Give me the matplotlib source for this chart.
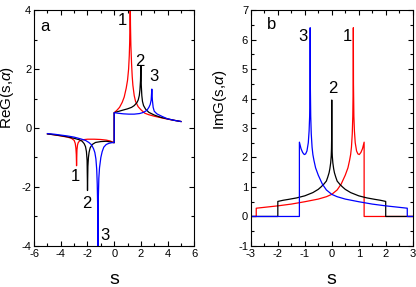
import matplotlib
matplotlib.use('Agg')
import matplotlib.pyplot as plt
from matplotlib.ticker import MultipleLocator

plt.rcParams['font.family'] = ['Liberation Sans', 'DejaVu Sans']
plt.rcParams['mathtext.fontset'] = 'custom'
plt.rcParams['mathtext.it'] = 'Liberation Sans:italic'
plt.rcParams['mathtext.rm'] = 'Liberation Sans'
plt.rcParams['axes.unicode_minus'] = False

# ---- panel a : ReG(s, alpha) ----
re1_s = [-5.0, -4.5, -4.0, -3.5, -3.2, -3.0, -2.92, -2.87, -2.84, -2.82, -2.79, -2.75, -2.7,
         -2.6, -2.4, -2.0, -1.5, -1.0, -0.6, -0.3, -0.1, 0.0,
         0.0, 0.2, 0.4, 0.6, 0.75, 0.9, 1.0, 1.08, 1.13, 1.16, 1.18, 1.2, 1.22, 1.25, 1.3,
         1.35, 1.4, 1.5, 1.6, 1.8, 2.0, 2.3, 2.6, 3.0, 3.5, 4.0, 4.5, 5.0]
re1_v = [-0.2, -0.23, -0.27, -0.31, -0.35, -0.42, -0.52, -0.68, -0.9, -1.28, -0.75, -0.58, -0.5,
         -0.44, -0.4, -0.38, -0.38, -0.39, -0.41, -0.44, -0.48, -0.5,
         0.52, 0.6, 0.7, 0.87, 1.05, 1.35, 1.62, 2.0, 2.45, 2.9, 3.5, 4.6, 3.5, 2.8, 2.2,
         1.75, 1.45, 1.1, 0.9, 0.72, 0.62, 0.5, 0.45, 0.4, 0.35, 0.3, 0.26, 0.22]

re2_s = [-5.0, -4.5, -4.0, -3.5, -3.0, -2.6, -2.4, -2.25, -2.15, -2.08, -2.03, -2.0, -1.97,
         -1.93, -1.88, -1.8, -1.65, -1.4, -1.0, -0.6, -0.3, 0.0,
         0.0, 0.3, 0.6, 1.0, 1.3, 1.5, 1.7, 1.8, 1.88, 1.93, 1.97, 2.0, 2.03, 2.07, 2.12,
         2.2, 2.35, 2.6, 3.0, 3.5, 4.0, 4.5, 5.0]
re2_v = [-0.2, -0.23, -0.26, -0.3, -0.35, -0.4, -0.45, -0.53, -0.63, -0.8, -1.1, -2.12, -1.3,
         -1.0, -0.82, -0.67, -0.56, -0.49, -0.46, -0.45, -0.47, -0.5,
         0.52, 0.56, 0.6, 0.65, 0.7, 0.76, 0.86, 0.95, 1.1, 1.3, 1.6, 2.12, 1.45, 1.1, 0.9,
         0.76, 0.64, 0.53, 0.44, 0.36, 0.31, 0.26, 0.22]

re3_s = [-5.0, -4.5, -4.0, -3.5, -3.0, -2.5, -2.15, -1.9, -1.7, -1.55, -1.45, -1.37, -1.31,
         -1.27, -1.24, -1.22, -1.19, -1.15, -1.1, -1.0, -0.9, -0.78, -0.6, -0.4, -0.2, 0.0,
         0.0, 0.3, 0.7, 1.1, 1.5, 1.9, 2.2, 2.45, 2.6, 2.7, 2.77, 2.82, 2.86, 2.92, 3.0,
         3.2, 3.6, 4.0, 4.5, 5.0]
re3_v = [-0.19, -0.21, -0.24, -0.27, -0.31, -0.37, -0.42, -0.49, -0.57, -0.7, -0.83, -1.05, -1.4,
         -1.9, -2.6, -4.6, -2.4, -1.7, -1.35, -1.0, -0.8, -0.65, -0.56, -0.52, -0.5, -0.49,
         0.52, 0.5, 0.48, 0.47, 0.47, 0.49, 0.53, 0.6, 0.7, 0.8, 0.95, 1.32, 0.95, 0.7, 0.57,
         0.48, 0.39, 0.31, 0.26, 0.22]

# ---- panel b : ImG(s, alpha) ----
im1_s = [-3.0, -2.8, -2.8, -2.5, -2.0, -1.5, -1.0, -0.5, -0.2, 0.0, 0.2, 0.35, 0.5, 0.6, 0.66,
         0.7, 0.73, 0.76, 0.78, 0.795, 0.8, 0.805, 0.82, 0.84, 0.87, 0.92, 0.97, 1.02, 1.08,
         1.14, 1.2, 1.2, 3.0]
im1_v = [0, 0, 0.28, 0.31, 0.36, 0.42, 0.5, 0.59, 0.67, 0.75, 0.9, 1.1, 1.4, 1.65, 1.9,
         2.1, 2.35, 2.8, 3.4, 4.5, 6.4, 4.5, 3.4, 2.9, 2.5, 2.22, 2.12, 2.1, 2.17,
         2.3, 2.52, 0, 0]

im2_s = [-3.0, -2.0, -2.0, -1.8, -1.6, -1.3, -1.0, -0.7, -0.5, -0.4, -0.3, -0.2, -0.15, -0.1,
         -0.07, -0.04, -0.02, -0.01, -0.005, 0.0, 0.005, 0.01, 0.02, 0.04, 0.07, 0.1, 0.15,
         0.2, 0.3, 0.4, 0.5, 0.7, 1.0, 1.3, 1.6, 1.8, 2.0, 2.0, 3.0]
im2_v = [0, 0, 0.51, 0.55, 0.58, 0.63, 0.7, 0.81, 0.92, 1.0, 1.09, 1.2, 1.33, 1.48,
         1.62, 1.82, 2.05, 2.3, 2.6, 3.95, 2.6, 2.3, 2.05, 1.82, 1.62, 1.48, 1.33,
         1.2, 1.09, 1.0, 0.92, 0.81, 0.7, 0.63, 0.58, 0.55, 0.51, 0, 0]

im3_s = [-3.0, -1.2, -1.2, -1.14, -1.08, -1.02, -0.97, -0.92, -0.87, -0.84, -0.82, -0.805, -0.8,
         -0.795, -0.78, -0.76, -0.73, -0.7, -0.66, -0.6, -0.5, -0.35, -0.2, 0.0, 0.2, 0.5,
         1.0, 1.5, 2.0, 2.5, 2.8, 2.8, 3.0]
im3_v = [0, 0, 2.52, 2.3, 2.17, 2.1, 2.12, 2.22, 2.5, 2.9, 3.4, 4.5, 6.4,
         4.5, 3.4, 2.8, 2.35, 2.1, 1.9, 1.65, 1.4, 1.1, 0.9, 0.75, 0.67, 0.59,
         0.5, 0.42, 0.36, 0.31, 0.28, 0, 0]

colors = ['red', 'black', 'blue']
lw = 0.9

fig = plt.figure(figsize=(4.16, 2.87), dpi=100)
axa = fig.add_axes([0.082, 0.143, 0.385, 0.822])
axb = fig.add_axes([0.603, 0.143, 0.389, 0.822])

# panel a
for xs, ys, c in zip([re1_s, re2_s, re3_s], [re1_v, re2_v, re3_v], colors):
    axa.plot(xs, ys, color=c, lw=lw)
axa.set_xlim(-6, 6)
axa.set_ylim(-4, 4)
axa.xaxis.set_major_locator(MultipleLocator(2))
axa.xaxis.set_minor_locator(MultipleLocator(1))
axa.yaxis.set_major_locator(MultipleLocator(2))
axa.yaxis.set_minor_locator(MultipleLocator(1))
axa.set_xlabel('s', fontsize=14, labelpad=9)
axa.set_ylabel('ReG(s,$\\alpha$)', fontsize=11)
axa.yaxis.set_label_coords(-0.11, 0.63)
axa.text(-5.2, 3.45, 'a', fontsize=12, ha='center', va='center')
for tx, ty, t in [(0.6, 3.65, '1'), (1.95, 2.25, '2'), (2.95, 1.75, '3'),
                  (-2.92, -1.65, '1'), (-2.05, -2.55, '2'), (-0.67, -3.63, '3')]:
    axa.text(tx, ty, t, fontsize=12, ha='center', va='center')

# panel b
for xs, ys, c in zip([im1_s, im2_s, im3_s], [im1_v, im2_v, im3_v], colors):
    axb.plot(xs, ys, color=c, lw=lw)
axb.set_xlim(-3, 3)
axb.set_ylim(-1, 7)
axb.xaxis.set_major_locator(MultipleLocator(1))
axb.xaxis.set_minor_locator(MultipleLocator(0.5))
axb.yaxis.set_major_locator(MultipleLocator(1))
axb.yaxis.set_minor_locator(MultipleLocator(0.5))
axb.set_xlabel('s', fontsize=14, labelpad=9)
axb.set_ylabel('ImG(s,$\\alpha$)', fontsize=11)
axb.yaxis.set_label_coords(-0.135, 0.62)
axb.text(-2.25, 6.5, 'b', fontsize=12, ha='center', va='center')
for tx, ty, t in [(-1.07, 6.1, '3'), (0.57, 6.1, '1'), (0.04, 4.35, '2')]:
    axb.text(tx, ty, t, fontsize=12, ha='center', va='center')

for ax in [axa, axb]:
    ax.tick_params(which='both', direction='in', top=True, right=True, width=0.8,
                   labelsize=8, pad=2)
    ax.tick_params(which='major', length=3.5)
    ax.tick_params(which='minor', length=2)
    for sp in ax.spines.values():
        sp.set_linewidth(0.8)

plt.savefig('out.png', dpi=100)
